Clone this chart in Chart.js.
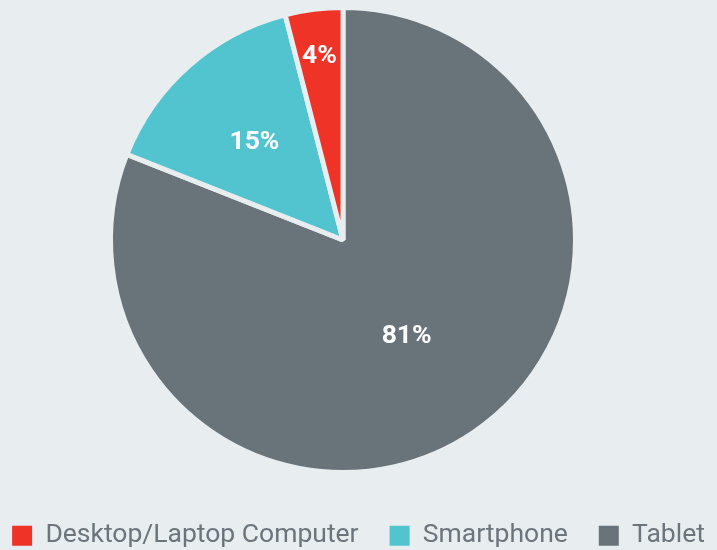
<!DOCTYPE html>
<html>
<head>
<meta charset="utf-8">
<script src="https://cdn.jsdelivr.net/npm/chart.js@4.4.0/dist/chart.umd.min.js"></script>
<style>
  html, body { margin: 0; padding: 0; background: #e8edf0; }
  #wrap { width: 717px; height: 550px; }
</style>
</head>
<body>
<div id="wrap"><canvas id="deviceChart"></canvas></div>
<script>
// clockwise from 12 o'clock, legend is shown reversed
const categories = ['Tablet', 'Smartphone', 'Desktop/Laptop Computer'];
const shares = [81, 15, 4];
const sliceColors = ['#69747a', '#51c4cf', '#f03327'];
const labelRadius = [0.487, 0.576, 0.808];

const pieLabels = {
    id: 'pieLabels',
    afterLayout(chart) {
        // pie sits a bit left of the canvas centre
        chart.chartArea.left = 0;
        chart.chartArea.right = 686;
        chart.chartArea.top = 8;
        chart.chartArea.bottom = 472;
        chart.chartArea.width = 686;
        chart.chartArea.height = 464;
    },
    afterDatasetsDraw(chart) {
        const ctx = chart.ctx;
        const meta = chart.getDatasetMeta(0);
        ctx.save();
        ctx.font = 'bold 26.5px Roboto';
        ctx.fillStyle = '#ffffff';
        ctx.textAlign = 'center';
        ctx.textBaseline = 'alphabetic';
        meta.data.forEach((arc, i) => {
            const p = arc.getProps(['x', 'y', 'startAngle', 'endAngle', 'outerRadius'], true);
            const mid = (p.startAngle + p.endAngle) / 2;
            const r = p.outerRadius * labelRadius[i];
            const text = shares[i] + '%';
            const m = ctx.measureText(text);
            const dy = (m.actualBoundingBoxAscent - m.actualBoundingBoxDescent) / 2;
            ctx.fillText(text, p.x + Math.cos(mid) * r, p.y + Math.sin(mid) * r + dy);
        });
        ctx.restore();
    }
};

new Chart(document.getElementById('deviceChart'), {
    type: 'pie',
    data: {
        labels: categories,
        datasets: [{
            data: shares,
            backgroundColor: sliceColors,
            borderColor: '#e8edf0',
            borderWidth: 5,
            clip: false
        }]
    },
    options: {
        responsive: true,
        maintainAspectRatio: false,
        animation: false,
        radius: 232.5,
        layout: { padding: { top: 8, bottom: -9, left: -20, right: -20 } },
        plugins: {
            tooltip: { enabled: false },
            legend: {
                position: 'bottom',
                reverse: true,
                labels: {
                    boxWidth: 20,
                    boxHeight: 20,
                    padding: 31,
                    color: '#6b757b',
                    font: { family: 'Roboto', size: 26.5 },
                    generateLabels(chart) {
                        const items = Chart.overrides.pie.plugins.legend.labels.generateLabels(chart);
                        items.forEach(it => {
                            it.lineWidth = 0;
                            it.strokeStyle = it.fillStyle;
                        });
                        return items;
                    }
                }
            }
        }
    },
    plugins: [pieLabels]
});
</script>
</body>
</html>
